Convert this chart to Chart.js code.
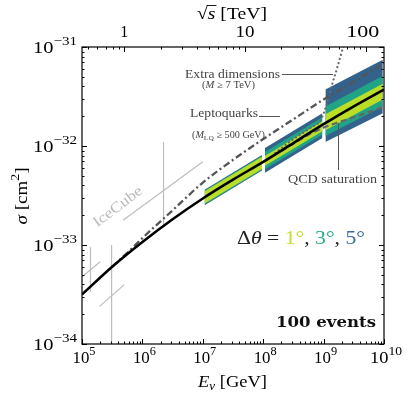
<!DOCTYPE html>
<html><head><meta charset="utf-8">
<script src="https://cdn.jsdelivr.net/npm/chart.js@4/dist/chart.umd.min.js"></script>
<style>html,body{margin:0;padding:0;background:#fff;}#wrap{width:407px;height:399px;position:relative;}</style>
</head><body><div id="wrap"><canvas id="c" width="407" height="399"></canvas></div>
<script>
// ---------------- data (log10 values) ----------------
// Standard-model cross-section
const smLogE     = [5.0, 5.5, 6.0, 6.5, 7.0, 7.5, 8.0, 8.5, 9.0, 9.5, 10.0];
const smLogSigma = [-33.50,-33.22,-32.97,-32.74,-32.53,-32.34,-32.16,-31.97,-31.78,-31.60,-31.43];
// Leptoquarks (M_LQ >= 500 GeV)
const lqLogE     = [5.5, 5.8, 6.0, 6.5, 7.0, 7.5, 8.0, 8.5, 9.0, 9.5, 10.0];
const lqLogSigma = [-33.22,-33.05,-32.93,-32.65,-32.37,-32.14,-31.93,-31.73,-31.53,-31.35,-31.17];
// Extra dimensions (M >= 7 TeV)
const edLogE     = [8.2, 8.5, 8.8, 8.95, 9.05, 9.14, 9.22, 9.30, 9.36];
const edLogSigma = [-32.07,-31.93,-31.81,-31.74,-31.58,-31.38,-31.22,-31.05,-30.92];
// QCD saturation
const qcdLogE     = [8.3, 8.6, 8.9, 9.2, 9.5, 9.97];
const qcdLogSigma = [-32.05,-31.94,-31.84,-31.77,-31.71,-31.61];
// Projected bands (3 energy decades), [start,end] edge values per segment
const bandLogEStart = [7.03, 8.03, 9.03];
const bandLogEEnd   = [7.98, 8.98, 9.98];
const band5Upper = [[-32.442,-32.092],[-32.02,-31.67],[-31.43,-31.13]];
const band5Lower = [[-32.598,-32.248],[-32.27,-31.92],[-31.96,-31.67]];
const band3Upper = [[-32.450,-32.100],[-32.06,-31.71],[-31.60,-31.29]];
const band3Lower = [[-32.590,-32.240],[-32.235,-31.885],[-31.90,-31.60]];
const band1Upper = [[-32.458,-32.108],[-32.10,-31.75],[-31.68,-31.37]];
const band1Lower = [[-32.582,-32.232],[-32.20,-31.85],[-31.84,-31.53]];
// IceCube measurements: bin segments and error bars
const icBinLogELo   = [5.0, 5.29, 5.68];
const icBinLogEHi   = [5.30, 5.70, 7.0];
const icBinSigmaLo  = [-33.32,-33.62,-32.75];
const icBinSigmaHi  = [-33.17,-33.40,-32.16];
const icErrLogE     = [5.14, 5.49, 6.35];
const icErrSigmaLo  = [-33.475,-34.3,-32.82];
const icErrSigmaHi  = [-33.02,-33.00,-31.96];
// axis ticks
const xTickExp = [5,6,7,8,9,10];
const yTickExp = [-34,-33,-32,-31];
const topTickTeV = [1,10,100];
const nucleonMassGeV = 1.0;

// ---------------- build datasets ----------------
const P = (le, ls) => le.map((e,i)=>({x:Math.pow(10,e), y:Math.pow(10,ls[i])}));
const datasets = [];
const C5='#33638d', C3='#21a386', C1='#bade28';
function addBand(up, lo, color, order){
  for(let s=0;s<3;s++){
    datasets.push({data:P([bandLogEStart[s],bandLogEEnd[s]],lo[s]),borderWidth:0,pointRadius:0,fill:false,order:order,clip:0});
    datasets.push({data:P([bandLogEStart[s],bandLogEEnd[s]],up[s]),borderWidth:0,pointRadius:0,fill:'-1',backgroundColor:color,order:order,clip:0});
  }
}
addBand(band5Upper,band5Lower,C5,30);
addBand(band3Upper,band3Lower,C3,29);
addBand(band1Upper,band1Lower,C1,28);
for(let i=0;i<icBinLogELo.length;i++){
  datasets.push({data:P([icBinLogELo[i],icBinLogEHi[i]],[icBinSigmaLo[i],icBinSigmaHi[i]]),borderColor:'#bdbdbd',borderWidth:1.2,pointRadius:0,order:40,clip:0});
  datasets.push({data:P([icErrLogE[i],icErrLogE[i]],[icErrSigmaLo[i],icErrSigmaHi[i]]),borderColor:'#bdbdbd',borderWidth:1.2,pointRadius:0,order:40,clip:0});
}
datasets.push({data:P(qcdLogE,qcdLogSigma),borderColor:'#666',borderWidth:2.2,borderDash:[6,3.5],pointRadius:0,cubicInterpolationMode:'monotone',order:3,clip:0});
datasets.push({data:P(edLogE,edLogSigma),borderColor:'#6a6a6a',borderWidth:2.2,borderDash:[0.1,4.2],borderCapStyle:'round',pointRadius:0,cubicInterpolationMode:'monotone',order:4,clip:0});
datasets.push({data:P(lqLogE,lqLogSigma),borderColor:'#555',borderWidth:2.3,borderDash:[7,3,2,3],pointRadius:0,cubicInterpolationMode:'monotone',order:2,clip:0});
datasets.push({data:P(smLogE,smLogSigma),borderColor:'#000',borderWidth:2.6,pointRadius:0,cubicInterpolationMode:'monotone',order:1,clip:0});

// ---------------- text helpers ----------------
const SERIF='"Liberation Serif","DejaVu Serif",serif';
// draws mixed-font text; if W given, stretches horizontally to width W
function rich(ctx, parts, x, y, align, W){
  let w=0; parts.forEach(p=>{ctx.font=p.f; p.w=ctx.measureText(p.t).width; w+=p.w;});
  const k = W? W/w : 1, tw=w*k;
  let sx = align==='center'? x-tw/2 : (align==='right'? x-tw : x);
  parts.forEach(p=>{
    ctx.save(); ctx.font=p.f; ctx.fillStyle=p.c||'#000'; ctx.textAlign='left';
    ctx.translate(sx, y+(p.dy||0)); ctx.scale(k,1); ctx.fillText(p.t,0,0); ctx.restore();
    p.x=sx; p.sw=p.w*k; sx+=p.w*k;
  });
  return parts;
}
const sup = (e)=> (e<0? '\u2212'+(-e) : ''+e);

const deco = {
  id:'deco',
  afterDatasetsDraw(chart){
    const ctx=chart.ctx, a=chart.chartArea, xs=chart.scales.x, ys=chart.scales.y, x2=chart.scales.x2;
    ctx.save();
    ctx.textBaseline='alphabetic';
    // frame
    ctx.strokeStyle='#000'; ctx.lineWidth=1.2;
    ctx.strokeRect(a.left,a.top,a.right-a.left,a.bottom-a.top);
    ctx.lineWidth=1;
    ctx.beginPath();
    for(let k=5;k<=10;k++){
      for(let m=1;m<=9;m++){
        const v=m*Math.pow(10,k); if(v>1e10*1.0001) break;
        const px=Math.round(xs.getPixelForValue(v))+0.5, L=(m===1?5:2.5);
        ctx.moveTo(px,a.bottom); ctx.lineTo(px,a.bottom-L);
      }
    }
    for(let k=-34;k<=-31;k++){
      for(let m=1;m<=9;m++){
        const v=m*Math.pow(10,k); if(v>1e-31*1.0001) break;
        const py=Math.round(ys.getPixelForValue(v))+0.5, L=(m===1?5:2.5);
        ctx.moveTo(a.left,py); ctx.lineTo(a.left+L,py);
        ctx.moveTo(a.right,py); ctx.lineTo(a.right-L,py);
      }
    }
    for(let k=-1;k<=2;k++){
      for(let m=1;m<=9;m++){
        const v=m*Math.pow(10,k);
        if(v<x2.min||v>x2.max) continue;
        const px=Math.round(x2.getPixelForValue(v))+0.5, L=(m===1?5:2.5);
        ctx.moveTo(px,a.top); ctx.lineTo(px,a.top+L);
      }
    }
    ctx.stroke();
    // tick labels
    const fBig='17px '+SERIF, fSup='12.5px '+SERIF;
    xTickExp.forEach(k=>{
      const px=xs.getPixelForValue(Math.pow(10,k));
      rich(ctx,[{t:'10',f:fBig},{t:sup(k),f:fSup,dy:-8}],px+2,363,'center',k===10?32:23);
    });
    yTickExp.forEach(k=>{
      const py=ys.getPixelForValue(Math.pow(10,k));
      rich(ctx,[{t:'10',f:fBig},{t:sup(k),f:fSup,dy:-8}],77,py+5.5,'right',44);
    });
    topTickTeV.forEach(t=>{
      const px=x2.getPixelForValue(t);
      rich(ctx,[{t:String(t),f:fBig}],px-(t===100?3:0),37,'center',t===1?8:(t===10?19:33));
    });
    // axis titles
    const fIt='italic 17px '+SERIF;
    rich(ctx,[{t:'E',f:fIt},{t:'\u03bd',f:'italic 12px '+SERIF,dy:3},{t:' [GeV]',f:fBig}],232.5,387,'center',69);
    const pr=rich(ctx,[{t:'\u221a',f:fBig},{t:'s',f:fIt},{t:' [TeV]',f:fBig}],232,19,'center',70);
    ctx.strokeStyle='#000'; ctx.lineWidth=0.9; ctx.beginPath();
    ctx.moveTo(pr[1].x-1,5.5); ctx.lineTo(pr[1].x+pr[1].sw+1,5.5); ctx.stroke();
    ctx.save(); ctx.translate(27,196); ctx.rotate(-Math.PI/2);
    rich(ctx,[{t:'\u03c3',f:fIt},{t:' [cm',f:fBig},{t:'2',f:fSup,dy:-8},{t:']',f:fBig}],0,0,'center',57);
    ctx.restore();
    // annotations
    const gTxt='#444', fA='12.5px '+SERIF, fS='9.5px '+SERIF, fSi='italic 9.5px '+SERIF;
    rich(ctx,[{t:'Extra dimensions',f:fA,c:gTxt}],280,78,'right',95);
    rich(ctx,[{t:'(',f:fS,c:gTxt},{t:'M',f:fSi,c:gTxt},{t:' \u2265 7 TeV)',f:fS,c:gTxt}],228.5,88,'center',53);
    rich(ctx,[{t:'Leptoquarks',f:fA,c:gTxt}],258,117,'right',68);
    rich(ctx,[{t:'(',f:fS,c:gTxt},{t:'M',f:fSi,c:gTxt},{t:'LQ',f:'7px '+SERIF,c:gTxt,dy:2},{t:' \u2265 500 GeV)',f:fS,c:gTxt}],228.5,138,'center',73);
    rich(ctx,[{t:'QCD saturation',f:fA,c:gTxt}],332.5,183,'center',89);
    ctx.strokeStyle='#555'; ctx.lineWidth=1; ctx.beginPath();
    ctx.moveTo(282,74.5); ctx.lineTo(333,74.5);
    ctx.moveTo(259,116.5); ctx.lineTo(280,116.5);
    ctx.moveTo(338.5,123); ctx.lineTo(338.5,170);
    ctx.stroke();
    // IceCube label
    ctx.save(); ctx.translate(118,207); ctx.rotate(-37*Math.PI/180);
    ctx.textBaseline='middle';
    rich(ctx,[{t:'IceCube',f:'15px '+SERIF,c:'#bbb'}],0,0,'center',58);
    ctx.restore();
    ctx.textBaseline='alphabetic';
    // delta theta legend
    const fD='18px '+SERIF, fDi='italic 18px '+SERIF;
    rich(ctx,[{t:'\u0394',f:fD,c:'#222'},{t:'\u03b8',f:fDi,c:'#222'},{t:' = ',f:fD,c:'#222'},
              {t:'1\u00b0',f:fD,c:'#c2dd2c'},{t:', ',f:fD,c:'#222'},{t:'3\u00b0',f:fD,c:'#28a98a'},
              {t:', ',f:fD,c:'#222'},{t:'5\u00b0',f:fD,c:'#3a6aa0'}],237,244,'left',128);
    rich(ctx,[{t:'100 events',f:'bold 15px "DejaVu Serif",serif',c:'#111'}],376,327,'right',100);
    ctx.restore();
  }
};

const sMin=Math.sqrt(2*nucleonMassGeV*1e5)/1000, sMax=Math.sqrt(2*nucleonMassGeV*1e10)/1000;
new Chart(document.getElementById('c'),{
  type:'line',
  data:{datasets},
  options:{
    responsive:false, animation:false, devicePixelRatio:1,
    layout:{padding:{left:82,right:23,top:47,bottom:55}},
    plugins:{legend:{display:false},tooltip:{enabled:false}},
    elements:{line:{tension:0}},
    scales:{
      x:{type:'logarithmic',min:1e5,max:1e10,display:false},
      x2:{type:'logarithmic',position:'top',min:sMin,max:sMax,display:false},
      y:{type:'logarithmic',min:1e-34,max:1e-31,display:false}
    }
  },
  plugins:[deco]
});
</script></body></html>
